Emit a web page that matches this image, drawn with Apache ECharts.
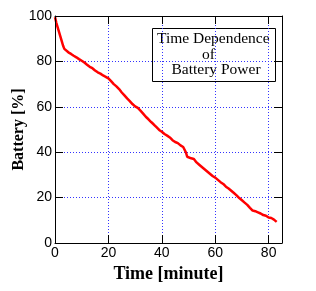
<!DOCTYPE html>
<html>
<head>
<meta charset="utf-8">
<script src="https://cdn.jsdelivr.net/npm/echarts@6/dist/echarts.min.js"></script>
<style>html,body{margin:0;padding:0;background:#fff;}#c{width:316px;height:291px;}</style>
</head>
<body>
<div id="c"></div>
<script>
var timeMin = [0,0.5,1,1.5,2,2.5,3,3.5,4,5,6,7,8,9,10,11,12,13,14,15,16,17,18,19,20,21,22,23,24,25,26,27,28,29,30,31,32,33,34,35,36,37,38,39,40,41,42,43,44,45,46,47,48,49,49.5,50,51,52,53,54,55,56,57,58,59,60,61,62,63,64,65,66,67,68,69,70,71,72,73,74,75,76,77,78,79,80,81,82,83];
var battery = [99.5,97,95,93,91,89,87,85.5,84.8,84,83.3,82.5,81.8,81,80.3,79.5,78.5,77.6,77,76,75.2,74.6,73.8,73.2,72.5,71.3,70,69,67.8,66.3,65,63.7,62.5,61.2,60.2,59.5,58.3,57,55.6,54.5,53.3,52.2,51,49.8,49,48,47.3,46.5,45.3,44.5,44,43,42.3,40,38,37.5,37.3,37,35.5,34.5,33.5,32.5,31.5,30.5,29.5,28.8,27.8,26.8,26,24.8,24,23,22,21,19.8,18.8,17.8,16.8,15.5,14.3,14,13.5,13,12.3,12,11.2,11,10.3,9.3];
var xTicks = [0, 20, 40, 60, 80];
var yTicks = [0, 20, 40, 60, 80, 100];
var legendLines = ["Time Dependence", "of", "Battery Power"];
var xTitle = "Time [minute]";
var yTitle = "Battery [%]";

var chart = echarts.init(document.getElementById('c'), null, {renderer: 'canvas'});
var data = timeMin.map(function (t, i) { return [t, battery[i]]; });
var labelFont = 'Liberation Sans';
var serif = 'Liberation Serif';
var legendFont = '15.5px "Liberation Serif"';
var blk = {color: '#000', width: 1};
var gridLineStyle = {color: '#3333ff', type: [1, 2], width: 1};
var xBase = {type: 'value', min: 0, max: 85, interval: 20};
var yBase = {type: 'value', min: 0, max: 100, interval: 20};
function frameX(pos, extra) {
  return Object.assign({}, xBase, {
    position: pos, z: 3,
    axisLine: {show: true, onZero: false, lineStyle: blk},
    axisTick: {show: true, inside: true, length: 8, customValues: xTicks, lineStyle: blk},
    axisLabel: {show: false}, splitLine: {show: false}
  }, extra || {});
}
function frameY(pos, extra) {
  return Object.assign({}, yBase, {
    position: pos, z: 3,
    axisLine: {show: true, onZero: false, lineStyle: blk},
    axisTick: {show: true, inside: true, length: 8, customValues: yTicks, lineStyle: blk},
    axisLabel: {show: false}, splitLine: {show: false}
  }, extra || {});
}
chart.setOption({
  animation: false,
  grid: {left: 55, top: 16, right: 34, bottom: 48, containLabel: false, outerBoundsMode: 'none'},
  xAxis: [
    Object.assign({}, xBase, {
      position: 'bottom', z: 0,
      axisLine: {show: false}, axisTick: {show: false}, axisLabel: {show: false},
      splitLine: {show: true, lineStyle: gridLineStyle}
    }),
    frameX('bottom', {
      name: xTitle, nameLocation: 'middle', nameGap: 22, nameMoveOverlap: false,
      nameTextStyle: {fontFamily: serif, fontWeight: 'bold', fontSize: 18, color: '#000'},
      axisLabel: {show: true, fontFamily: labelFont, fontSize: 14, color: '#000', margin: 3, customValues: xTicks}
    }),
    frameX('top')
  ],
  yAxis: [
    Object.assign({}, yBase, {
      position: 'left', z: 0,
      axisLine: {show: false}, axisTick: {show: false}, axisLabel: {show: false},
      splitLine: {show: true, lineStyle: gridLineStyle}
    }),
    frameY('left', {
      name: yTitle, nameLocation: 'middle', nameGap: 28, nameMoveOverlap: false,
      nameTextStyle: {fontFamily: serif, fontWeight: 'bold', fontSize: 16, color: '#000'},
      axisLabel: {show: true, fontFamily: labelFont, fontSize: 14, color: '#000', margin: 3, customValues: yTicks}
    }),
    frameY('right')
  ],
  series: [{
    type: 'line', data: data, xAxisIndex: 1, yAxisIndex: 1, z: 2,
    showSymbol: false, symbol: 'none',
    lineStyle: {color: '#ff0000', width: 2.5}
  }],
  graphic: [{
    type: 'group', left: 152, top: 28, z: 10,
    children: [
      {type: 'rect', shape: {x: 0, y: 0, width: 123, height: 53}, style: {fill: '#fff', stroke: '#000', lineWidth: 1}},
      {type: 'text', x: 4.5, y: 10.5, style: {text: legendLines[0], font: legendFont, fill: '#000', verticalAlign: 'middle'}},
      {type: 'text', x: 49.5, y: 26, style: {text: legendLines[1], font: legendFont, fill: '#000', verticalAlign: 'middle'}},
      {type: 'text', x: 19, y: 41.5, style: {text: legendLines[2], font: legendFont, fill: '#000', verticalAlign: 'middle'}}
    ]
  }]
});
</script>
</body>
</html>
